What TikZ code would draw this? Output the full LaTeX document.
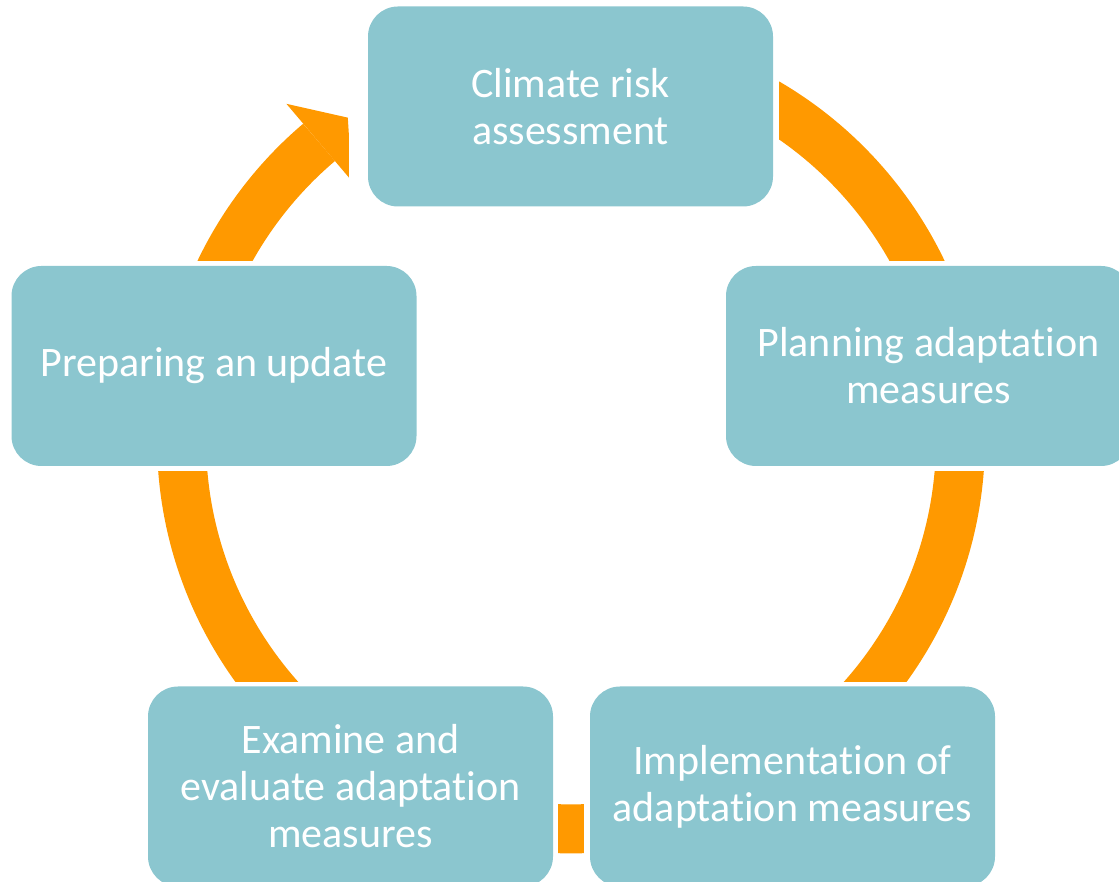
\documentclass[tikz,border=0pt]{standalone}
\usepackage{fontspec}
\setmainfont{Carlito}[RawFeature={-liga;-clig;-calt;-dlig}]
\usepackage{tikz}
\usetikzlibrary{positioning, calc}
\definecolor{boxteal}{RGB}{139,198,207}
\definecolor{ringorange}{RGB}{255,153,0}
\tikzstyle{stage} = [rectangle, fill=boxteal, text=white, align=center,
    minimum width=405, minimum height=200, inner sep=0pt, rounded corners=30,
    font=\fontsize{42}{47}\selectfont]
\tikzstyle{ring} = [draw=ringorange, line width=49pt, line cap=butt]
\tikzstyle{ringhead} = [fill=ringorange]

\begin{document}
\begin{tikzpicture}[x=1pt, y=1pt]
    \useasboundingbox (0,0) rectangle (1119,882);
    % Define blocks
    \node [stage] (crisk) at (570.5,775.5) {Climate risk\\assessment};
    \node [stage] (plan) at (928.5,516) {Planning adaptation\\measures};
    \node [stage] (impl) at (792.5,95.5) {Implementation of\\adaptation measures};
    \node [stage] (exam) at (350.5,95.5) {Examine and\\evaluate adaptation\\measures};
    \node [stage] (prep) at (214,516) {Preparing an update};

    % Centre of the cycle
    \coordinate (ctr) at (571,442.6);

    % Ring pieces between the blocks
    \begin{scope}
        \clip ([xshift=6]crisk.north east) rectangle ([yshift=5]plan.north east);
        \draw [ring] (ctr) circle (389.5);
    \end{scope}
    \begin{scope}
        \clip ([yshift=-5]plan.south -| ctr) rectangle ([yshift=5]impl.north -| plan.east);
        \draw [ring] (ctr) circle (389.5);
    \end{scope}
    \begin{scope}
        \clip ([xshift=5]exam.south east) rectangle ([xshift=-6]impl.north west);
        \draw [ring] (ctr) circle (389.5);
    \end{scope}
    \begin{scope}
        \clip ([yshift=5]exam.north -| prep.west) rectangle ([yshift=-5]prep.south -| ctr);
        \draw [ring] (ctr) circle (389.5);
    \end{scope}

    % Last piece with the arrow head
    \begin{scope}
        \clip ([yshift=5]prep.north -| prep.west) rectangle ([xshift=-19]crisk.north west);
        \draw [ring] ($(ctr)+(165:389.5)$) arc [start angle=165, end angle=130.3, radius=389.5];
        \fill [ringhead] ($(ctr)+(130.3:440)$) -- ($(ctr)+(124.75:391.6)$)
            -- ($(ctr)+(130.3:339)$) -- cycle;
    \end{scope}
\end{tikzpicture}
\end{document}
